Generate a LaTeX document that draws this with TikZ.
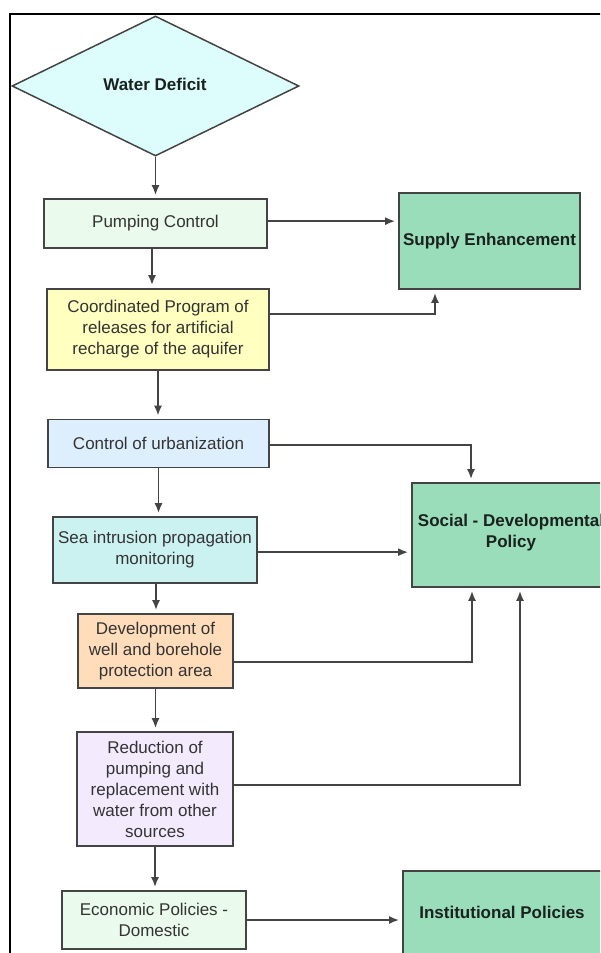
\documentclass[tikz,border=0pt]{standalone}
\usepackage{fontspec}
\setmainfont{Liberation Sans}
\usetikzlibrary{shapes.geometric,arrows.meta,calc}

\definecolor{diafill}{HTML}{DDFDFD}
\definecolor{mintfill}{HTML}{EAFAEC}
\definecolor{yelfill}{HTML}{FFFFC0}
\definecolor{bluefill}{HTML}{DDEEFD}
\definecolor{cyanfill}{HTML}{CCF1F1}
\definecolor{peachfill}{HTML}{FFDDBB}
\definecolor{lavfill}{HTML}{F3EBFD}
\definecolor{greenfill}{HTML}{99DDBB}
\definecolor{edgegray}{HTML}{444444}
\definecolor{textgray}{HTML}{333333}
\definecolor{boldtext}{HTML}{1A221D}

\tikzset{
  x=1pt, y=-1pt,
  basebox/.style={draw=edgegray, line width=1.7pt, rectangle, inner sep=2pt,
    align=center, font=\fontsize{17}{21}\selectfont, text=textgray},
  stepbox/.style={basebox, fill=#1},
  goalbox/.style={basebox, fill=greenfill, text=boldtext,
    font=\fontsize{17}{21}\selectfont\bfseries},
  decision/.style={draw=edgegray, line width=1.5pt, diamond, fill=diafill,
    inner sep=0pt, aspect=2.05, text=boldtext,
    font=\fontsize{17}{21}\selectfont\bfseries},
  flow/.style={draw=edgegray, line width=1.8pt,
    -{Latex[length=10pt,width=8pt]}, shorten >=3pt}
}

\begin{document}
\begin{tikzpicture}
\useasboundingbox (0,0) rectangle (600,953);
\clip (0,0) rectangle (600,953);

% outer frame
\draw[black, line width=2.2pt] (10,14) rectangle (620,980);

% decision
\node[decision, minimum width=287, minimum height=140] (wd) at (155.5,86) {};
\node[text=boldtext, font=\fontsize{17}{21}\selectfont\bfseries] (wdt) at (155,84) {Water Deficit};

% measures, left column
\node[stepbox=mintfill, minimum width=223, minimum height=49] (pc) at (155.5,223.5) {Pumping Control};
\node[stepbox=yelfill, minimum width=222, minimum height=81] (cp) at (158,329.5)
  {Coordinated Program of\\releases for artificial\\recharge of the aquifer};
\node[stepbox=bluefill, minimum width=221, minimum height=48] (cu) at (158.5,443.5) {Control of urbanization};
\node[stepbox=cyanfill, minimum width=204, minimum height=66] (si) at (155,550)
  {Sea intrusion propagation\\monitoring};
\node[stepbox=peachfill, minimum width=155, minimum height=74] (dv) at (155.5,651)
  {Development of\\well and borehole\\protection area};
\node[stepbox=lavfill, minimum width=156, minimum height=114] (rd) at (155,789)
  {Reduction of\\pumping and\\replacement with\\water from other\\sources};
\node[stepbox=mintfill, minimum width=184, minimum height=58] (ec) at (154,920)
  {Economic Policies -\\Domestic};

% policy outcomes, right column
\node[goalbox, minimum width=181, minimum height=96] (se) at (489.5,241) {Supply Enhancement};
\node[goalbox, minimum width=200, minimum height=104] (sd) at (512,535) {};
\node[text=boldtext, align=center, font=\fontsize{17}{21}\selectfont\bfseries] (sdt) at (511,533)
  {Social - Developmental\\Policy};
\node[goalbox, minimum width=200, minimum height=100] (ip) at (503,921) {};
\node[text=boldtext, font=\fontsize{17}{21}\selectfont\bfseries] (ipt) at (502,912) {Institutional Policies};

% vertical chain
\draw[flow] (wd.south) -- (wd.south |- pc.north);
\draw[flow] ([xshift=-3.5]pc.south) -- ([xshift=-3.5]pc.south |- cp.north);
\draw[flow] (cp.south) -- (cp.south |- cu.north);
\draw[flow] (cu.south) -- (cu.south |- si.north);
\draw[flow] ([xshift=1]si.south) -- ([xshift=1]si.south |- dv.north);
\draw[flow] (dv.south) -- (dv.south |- rd.north);
\draw[flow] (rd.south) -- (rd.south |- ec.north);

% links to the outcomes
\coordinate (pcR) at ($(pc.north east)+(0,23)$);
\draw[flow] (pcR) -- (pcR -| se.west);
\coordinate (cpR) at ($(cp.north east)+(0,26)$);
\draw[flow] (cpR) -| ([xshift=-54.5]se.south);
\coordinate (cuR) at ($(cu.north east)+(0,26.5)$);
\draw[flow] (cuR) -| ([xshift=-41]sd.north);
\coordinate (siR) at ($(si.north east)+(0,36)$);
\draw[flow] (siR) -- (siR -| sd.west);
\coordinate (dvR) at ($(dv.north east)+(0,49)$);
\draw[flow] (dvR) -| ([xshift=-40]sd.south);
\coordinate (rdR) at ($(rd.north east)+(0,54)$);
\draw[flow] (rdR) -| ([xshift=8]sd.south);
\draw[flow] (ec.east) -- (ec.east -| ip.west);
\end{tikzpicture}
\end{document}
